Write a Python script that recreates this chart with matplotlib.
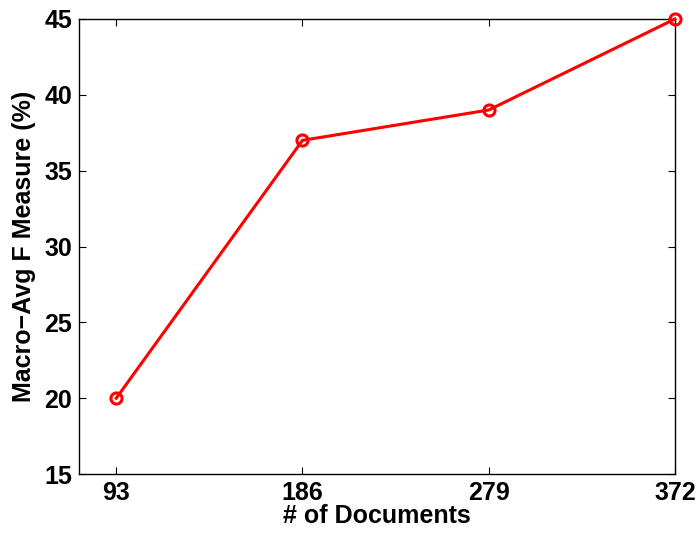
import numpy as np
import matplotlib.pyplot as plt

plt.rcParams['font.family'] = ['Liberation Sans', 'DejaVu Sans']
plt.rcParams['font.weight'] = 'bold'

n_docs = [93, 186, 279, 372]
macro_f = [20, 37, 39, 45]
xtick_labels = ['93', '186', '279', '372']
yticks = [15, 20, 25, 30, 35, 40, 45]

fig = plt.figure(figsize=(6.98, 5.35), dpi=100)
ax = fig.add_axes([0.1132, 0.114, 0.8538, 0.8505])

ax.plot(n_docs, macro_f, color='red', linewidth=2.2, marker='o',
        markersize=8, markerfacecolor='none', markeredgewidth=2.2,
        markeredgecolor='red', clip_on=False, zorder=3)

ax.set_xlim(74.4, 372)
ax.set_ylim(15, 45)
ax.set_xticks(n_docs)
ax.set_xticklabels(xtick_labels)
ax.set_yticks(yticks)
ax.tick_params(direction='in', top=True, right=True, labelsize=18, length=5, width=0.8, pad=5)
for lbl in ax.get_xticklabels() + ax.get_yticklabels():
    lbl.set_fontweight('bold')
for s in ax.spines.values():
    s.set_linewidth(1.0)

ax.set_xlabel('# of Documents', fontsize=18, fontweight='bold', labelpad=-1)
ax.set_ylabel('Macro\u2212Avg F Measure (%)', fontsize=18, fontweight='bold', labelpad=6)

fig.savefig('out.png', dpi=100)
